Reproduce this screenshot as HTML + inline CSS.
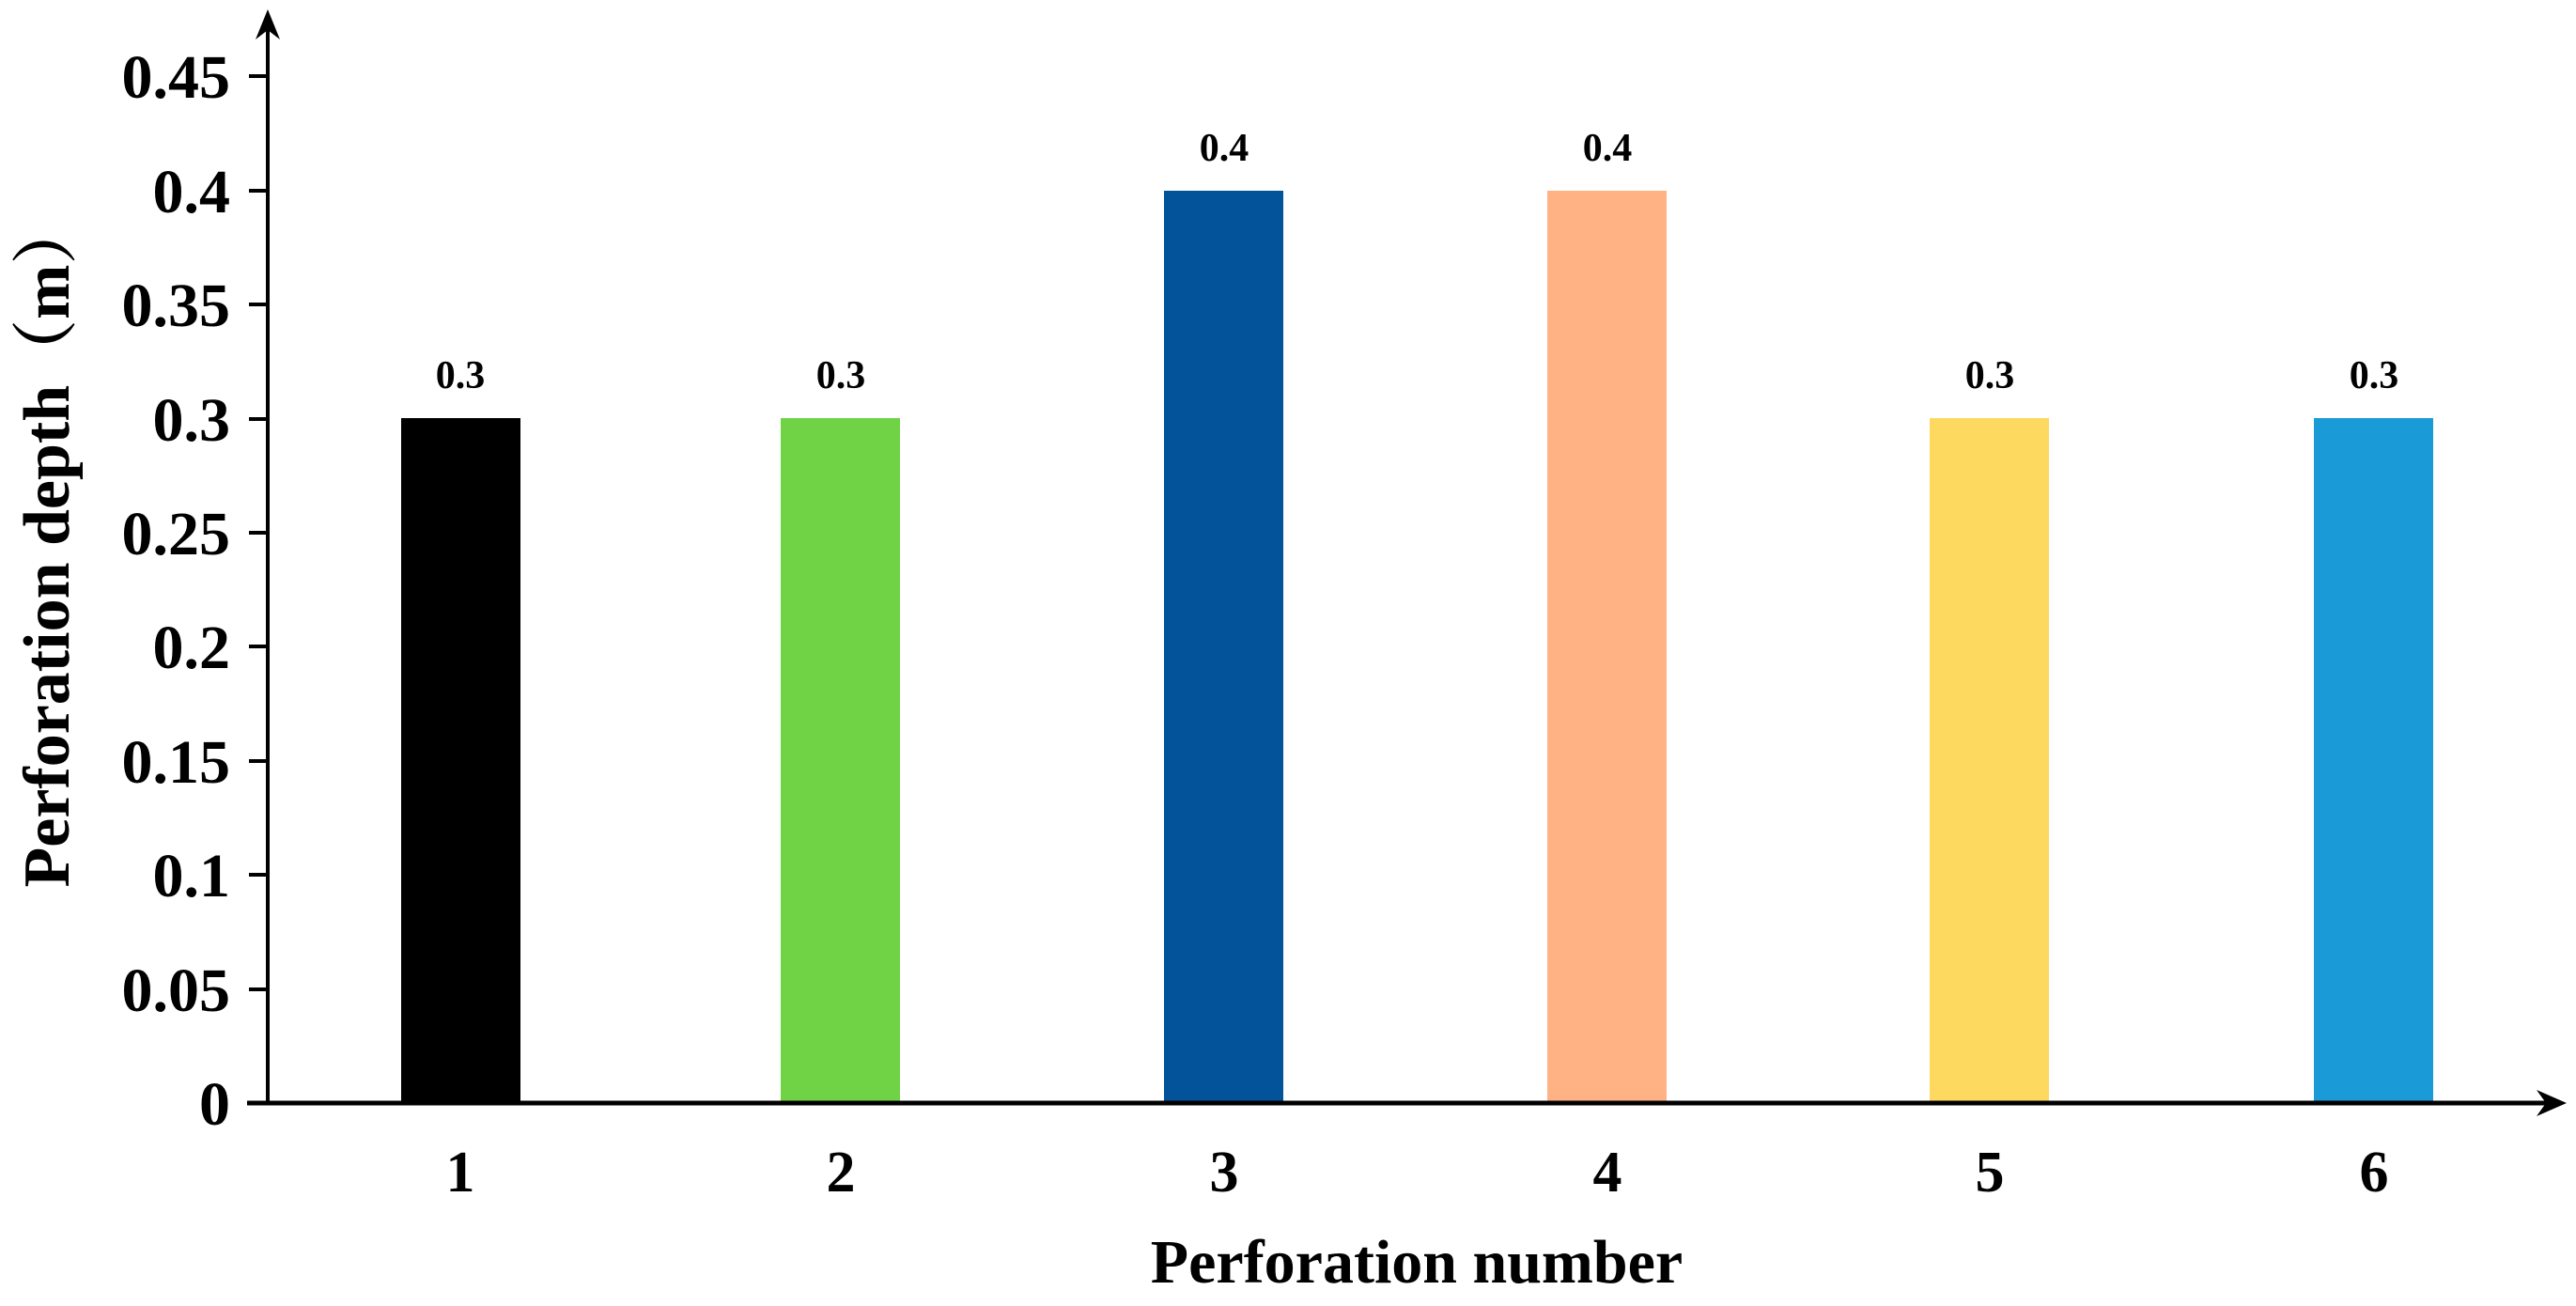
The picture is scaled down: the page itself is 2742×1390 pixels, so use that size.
<!DOCTYPE html>
<html><head><meta charset="utf-8"><style>
html,body{margin:0;padding:0;background:#fff;}
svg{display:block;}
text{font-family:"Liberation Serif","Noto Serif CJK SC",serif;font-weight:bold;fill:#000;}
</style></head><body>
<svg width="2742" height="1390" viewBox="0 0 2742 1390" xmlns="http://www.w3.org/2000/svg">
<!-- bars -->
<rect x="427" y="445" width="127" height="729" fill="#000"/>
<rect x="831" y="445" width="127" height="729" fill="#6fd345"/>
<rect x="1239" y="203" width="127" height="971" fill="#03539a"/>
<rect x="1647" y="203" width="127" height="971" fill="#ffb385"/>
<rect x="2054" y="445" width="127" height="729" fill="#fed95f"/>
<rect x="2463" y="445" width="127" height="729" fill="#1a9ad6"/>
<!-- axes -->
<line x1="285" y1="1174" x2="285" y2="20" stroke="#000" stroke-width="4"/>
<path d="M285 10 L272 42 L285 32 L298 42 Z" fill="#000"/>
<line x1="263" y1="1174" x2="2720" y2="1174" stroke="#000" stroke-width="5"/>
<path d="M2732 1174 L2700 1160 L2710 1174 L2700 1188 Z" fill="#000"/>
<g stroke="#000" stroke-width="4">
<line x1="265" y1="1053" x2="285" y2="1053"/>
<line x1="265" y1="931" x2="285" y2="931"/>
<line x1="265" y1="810" x2="285" y2="810"/>
<line x1="265" y1="688" x2="285" y2="688"/>
<line x1="265" y1="567" x2="285" y2="567"/>
<line x1="265" y1="446" x2="285" y2="446"/>
<line x1="265" y1="324" x2="285" y2="324"/>
<line x1="265" y1="203" x2="285" y2="203"/>
<line x1="265" y1="81" x2="285" y2="81"/>
</g>
<g font-size="66" text-anchor="end">
<text x="245" y="1197">0</text>
<text x="245" y="1076">0.05</text>
<text x="245" y="954">0.1</text>
<text x="245" y="833">0.15</text>
<text x="245" y="711">0.2</text>
<text x="245" y="590">0.25</text>
<text x="245" y="469">0.3</text>
<text x="245" y="347">0.35</text>
<text x="245" y="226">0.4</text>
<text x="245" y="104">0.45</text>
</g>
<g font-size="62" text-anchor="middle">
<text x="490" y="1268">1</text>
<text x="895" y="1268">2</text>
<text x="1303" y="1268">3</text>
<text x="1711" y="1268">4</text>
<text x="2118" y="1268">5</text>
<text x="2527" y="1268">6</text>
</g>
<g font-size="42" text-anchor="middle">
<text x="490" y="413">0.3</text>
<text x="895" y="413">0.3</text>
<text x="1303" y="171">0.4</text>
<text x="1711" y="171">0.4</text>
<text x="2118" y="413">0.3</text>
<text x="2527" y="413">0.3</text>
</g>
<text x="1508" y="1365" font-size="66" text-anchor="middle">Perforation number</text>
<text transform="translate(73,578) rotate(-90)" font-size="70" text-anchor="middle">Perforation depth（m）</text>
</svg>
</body></html>
